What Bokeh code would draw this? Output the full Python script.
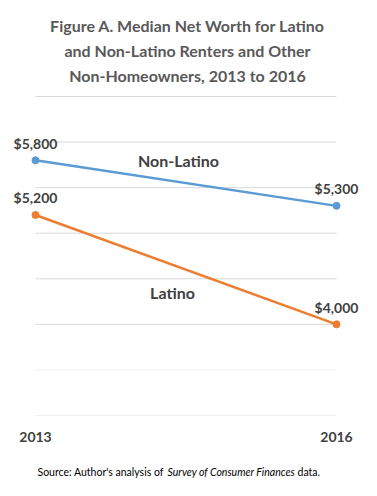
from bokeh.plotting import figure
from bokeh.models import Range1d, Label, LabelSet, ColumnDataSource
from bokeh.core.properties import value
from bokeh.embed import file_html
from bokeh.resources import INLINE

# ---- data ----
years = [2013, 2016]
year_labels = ["2013", "2016"]
non_latino = [5800, 5300]
latino = [5200, 4000]
non_latino_labels = ["$5,800", "$5,300"]
latino_labels = ["$5,200", "$4,000"]
series_names = ["Non-Latino", "Latino"]
title_lines = [
    "Figure A. Median Net Worth for Latino",
    "and Non-Latino Renters and Other",
    "Non-Homeowners, 2013 to 2016",
]
source_parts = ["Source: Author's analysis of", "Survey of Consumer Finances", "data."]
grid_main = [4000, 4500, 5000, 5500, 6000, 6500]
grid_faint = [3000, 3500]

BLUE = "#5B9BD5"
ORANGE = "#ED7D31"
TXT = "#404040"
TITLE = "#595959"
FONT = "Lato"

W, H = 377, 496
# layout: 2013 at 35px, 2016 at 336px; 6500 at 96px, 3000 at 415px
XU = (years[1] - years[0]) / 301.0
YU = 3500 / 319.0
x0 = years[0] - 35 * XU
x1 = years[1] + (W - 336) * XU
y1 = 6500 + 96 * YU
y0 = 3000 - (H - 415) * YU

def px(x):
    return x0 + x * XU

def py(y):
    return y1 - y * YU

p = figure(width=W, height=H, output_backend="svg", toolbar_location=None,
           x_range=Range1d(x0, x1), y_range=Range1d(y0, y1),
           min_border=0)
p.axis.visible = False
p.grid.visible = False
p.outline_line_color = None
p.background_fill_color = "white"
p.border_fill_color = "white"

# gridlines
p.segment(x0=[years[0]] * len(grid_main), x1=[years[1]] * len(grid_main),
          y0=grid_main, y1=grid_main, line_color="#d9d9d9", line_width=1)
p.segment(x0=[years[0]] * len(grid_faint), x1=[years[1]] * len(grid_faint),
          y0=grid_faint, y1=grid_faint, line_color="#f0f0f0", line_width=1)

# series
p.line(years, non_latino, line_color=BLUE, line_width=2.5)
p.scatter(years, non_latino, size=7, fill_color=BLUE, line_color=BLUE)
p.line(years, latino, line_color=ORANGE, line_width=2.5)
p.scatter(years, latino, size=7, fill_color=ORANGE, line_color=ORANGE)

# data labels
src = ColumnDataSource(dict(x=years + years, y=non_latino + latino,
                            t=non_latino_labels + latino_labels))
p.add_layout(LabelSet(x="x", y="y", text="t", source=src, y_offset=17,
                      text_align="center", text_baseline="middle",
                      text_font=value(FONT), text_font_style="bold",
                      text_font_size="14px", text_color=TXT))

# series names
p.add_layout(Label(x=px(178), y=py(160), text=series_names[0], text_align="center",
                   text_baseline="middle", text_font=FONT, text_font_style="bold",
                   text_font_size="16px", text_color=TXT))
p.add_layout(Label(x=px(172), y=py(292), text=series_names[1], text_align="center",
                   text_baseline="middle", text_font=FONT, text_font_style="bold",
                   text_font_size="16px", text_color=TXT))

# year labels (x axis)
for yr, lab in zip(years, year_labels):
    p.add_layout(Label(x=yr, y=py(436), text=lab, text_align="center",
                       text_baseline="middle", text_font=FONT, text_font_style="bold",
                       text_font_size="14px", text_color=TXT))

# title
for tpy, line in zip([25, 50, 75], title_lines):
    p.add_layout(Label(x=px(187), y=py(tpy), text=line, text_align="center",
                       text_baseline="middle", text_font=FONT, text_font_style="bold",
                       text_font_size="16px", text_color=TITLE))

# source
for sx, part, style in zip([37, 167, 297], source_parts, ["normal", "italic", "normal"]):
    p.add_layout(Label(x=px(sx), y=py(471), text=part, text_align="left",
                       text_baseline="middle", text_font=FONT, text_font_style=style,
                       text_font_size="10.5px", text_color="#000000"))

open("out.html", "w").write(file_html(p, INLINE))
